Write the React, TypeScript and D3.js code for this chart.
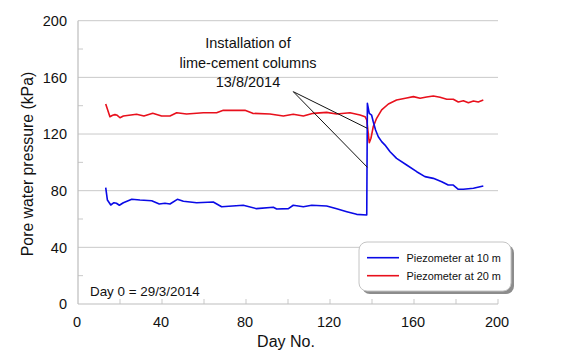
import React from "react";
import * as d3 from "d3";

const days10 = [13.2, 14, 15.6, 17.1, 18.3, 19.7, 21.6, 25.6, 29.5, 35.1, 38.7, 41.4, 43.8, 47.3, 50.2, 56.5, 64.4, 68.4, 78.7, 85, 93, 94.6, 100.2, 102.5, 107.3, 111.3, 118.4, 123.2, 128, 132.7, 137.5, 137.8, 138.7, 139.8, 140.6, 141.7, 143, 144.6, 146.2, 148.6, 151.7, 156.5, 161.3, 165.2, 169.2, 173.2, 176.3, 178.7, 181.1, 183.5, 188.3, 193];
const vals10 = [82.1, 73.4, 69.9, 71.5, 71.1, 69.7, 71.5, 73.9, 73.4, 72.9, 70.6, 71.1, 70.6, 73.9, 72.5, 71.5, 72, 68.7, 69.7, 67.3, 68.3, 67.1, 67.3, 69.7, 68.7, 69.7, 69.2, 67.3, 65.2, 63.3, 62.8, 141.7, 134.6, 133.4, 128.7, 122.8, 118.1, 114.6, 112.2, 107.5, 102.8, 98.1, 93.4, 89.9, 88.7, 86.3, 84, 84, 81, 81, 81.7, 83.3];

const days20 = [13.2, 15.2, 16.5, 17.6, 18.7, 20, 21.6, 27.9, 31.4, 35.6, 39.8, 43.8, 47, 51.7, 59.7, 66, 69.2, 79.5, 83.2, 91.4, 97.8, 102.5, 107.3, 112, 118.4, 123.2, 129.5, 134.3, 136.7, 137.5, 138.2, 138.7, 139.5, 140.6, 142.2, 144.6, 147.8, 151.7, 156.5, 159.7, 162.9, 166, 169.2, 172.4, 175.6, 178.7, 181.1, 183.5, 185.9, 188.3, 190.6, 193];
const vals20 = [141.2, 132.2, 133.2, 133.7, 133.2, 131.5, 132.7, 133.9, 132.7, 134.6, 132.7, 132.7, 135, 134.1, 135, 135, 136.7, 136.7, 134.6, 134.1, 132.7, 133.9, 132.7, 134.6, 135.3, 134.1, 135, 133.4, 132.2, 129.9, 120.5, 113.9, 117, 125.2, 131.1, 137, 141.2, 144, 145.4, 146.4, 145.2, 146.1, 146.8, 145.9, 144.5, 144.5, 142.6, 143.5, 142.1, 143.3, 142.6, 144];

const xTicks = [0, 40, 80, 120, 160, 200];
const yTicks = [0, 40, 80, 120, 160, 200];
const minorTicks = [20, 60, 100, 140, 180];
const seriesNames = ["Piezometer at 10 m", "Piezometer at 20 m"];
const seriesColors = ["#0a0ae6", "#e8101c"];
const annotationLines = ["Installation of", "lime-cement columns", "13/8/2014"];
// pointer: from (day, kPa) to targets
const pointerFrom = [102.5, 149.9];
const pointerTo = [[137.8, 124], [137.8, 96.5]];

const W = 583, H = 363;
const FONT = "'Liberation Sans', Arial, sans-serif";

export default function App() {
  const x = d3.scaleLinear().domain([0, 200]).range([78, 498]);
  const y = d3.scaleLinear().domain([0, 200]).range([304, 20.7]);
  const line = d3.line<[number, number]>().x(d => x(d[0])).y(d => y(d[1]));
  const s10 = days10.map((d, i) => [d, vals10[i]] as [number, number]);
  const s20 = days20.map((d, i) => [d, vals20[i]] as [number, number]);
  const grid = "#c9c9c9";
  const allTicks = [...xTicks, ...minorTicks].sort((a, b) => a - b);

  return (
    <svg width={W} height={H} style={{ position: "absolute", left: 0, top: 0, background: "#fff" }} fontFamily={FONT}>
      <rect width={W} height={H} fill="#fff" />
      {yTicks.filter(t => t > 0).map(t => (
        <line key={"g" + t} x1={x(0)} x2={x(200)} y1={y(t)} y2={y(t)} stroke={grid} strokeWidth={1} />
      ))}
      {minorTicks.map(t => (
        <line key={"ym" + t} x1={x(0)} x2={x(0) + 5} y1={y(t)} y2={y(t)} stroke={grid} strokeWidth={1} />
      ))}
      {allTicks.filter(t => t > 0).map(t => (
        <line key={"xt" + t} x1={x(t)} x2={x(t)} y1={y(0)} y2={y(0) - 5} stroke={grid} strokeWidth={1} />
      ))}
      <line x1={x(0)} x2={x(0)} y1={y(0)} y2={y(200)} stroke="#bdbdbd" strokeWidth={1.2} />
      <line x1={x(0)} x2={x(200)} y1={y(0)} y2={y(0)} stroke="#bdbdbd" strokeWidth={1.2} />
      {yTicks.map(t => (
        <text key={"yl" + t} x={67} y={y(t)} dy="0.36em" textAnchor="end" fontSize={14.5} fill="#111">{t}</text>
      ))}
      {xTicks.map(t => (
        <text key={"xl" + t} x={x(t) - 1} y={327} textAnchor="middle" fontSize={14.5} fill="#111">{t}</text>
      ))}
      <text x={286} y={347} textAnchor="middle" fontSize={16} fill="#111">Day No.</text>
      <text transform={`translate(33,164) rotate(-90)`} textAnchor="middle" fontSize={15.8} fill="#111">Pore water pressure (kPa)</text>

      <path d={line(s20) || ""} fill="none" stroke={seriesColors[1]} strokeWidth={1.6} strokeLinejoin="round" />
      <path d={line(s10) || ""} fill="none" stroke={seriesColors[0]} strokeWidth={1.6} strokeLinejoin="round" />

      {pointerTo.map((p, i) => (
        <line key={"pt" + i} x1={x(pointerFrom[0])} y1={y(pointerFrom[1])} x2={x(p[0])} y2={y(p[1])} stroke="#111" strokeWidth={1} />
      ))}
      {annotationLines.map((t, i) => (
        <text key={"an" + i} x={248} y={48 + i * 19.5} textAnchor="middle" fontSize={14.5} fill="#111">{t}</text>
      ))}

      <text x={90} y={296} fontSize={13.4} fill="#111">Day 0 = 29/3/2014</text>

      <g>
        <rect x={362} y={245} width={152} height={49} rx={8} fill="#8c8c8c" />
        <rect x={359} y={242} width={152} height={49} rx={8} fill="#fff" stroke="#c4c4c4" strokeWidth={1} />
        {seriesNames.map((n, i) => (
          <g key={n}>
            <line x1={367} x2={399} y1={257.7 + i * 18} y2={257.7 + i * 18} stroke={seriesColors[i]} strokeWidth={1.6} />
            <text x={406.5} y={257.7 + i * 18} dy="0.35em" fontSize={10.9} fill="#111">{n}</text>
          </g>
        ))}
      </g>
    </svg>
  );
}
